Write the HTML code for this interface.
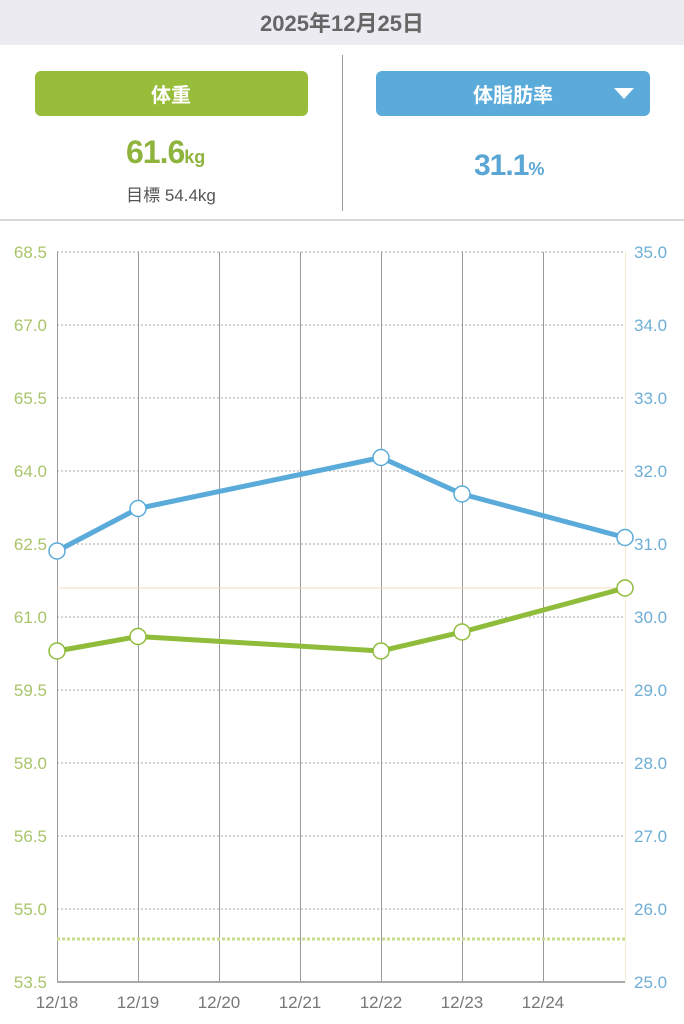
<!DOCTYPE html>
<html><head><meta charset="utf-8"><style>
body{margin:0;width:684px;height:1024px;background:#fff;overflow:hidden;font-family:"Liberation Sans","Noto Sans CJK JP",sans-serif;}
</style></head><body>
<svg width="684" height="1024" xmlns="http://www.w3.org/2000/svg" style="position:absolute;left:0;top:0">
<rect x="0" y="0" width="684" height="45" fill="#ebebf1"/>
<text x="342" y="31" text-anchor="middle" font-size="22" font-weight="bold" fill="#666" font-family="Liberation Sans, Noto Sans CJK JP, sans-serif">2025年12月25日</text>
<line x1="342.5" y1="55" x2="342.5" y2="211" stroke="#999" stroke-width="1"/>
<line x1="0" y1="220" x2="684" y2="220" stroke="#ccc" stroke-width="1.5"/>
<rect x="35" y="71" width="273" height="45" rx="6" fill="#97bd3a"/>
<text x="171" y="102" text-anchor="middle" font-size="20" font-weight="bold" fill="#fff" font-family="Liberation Sans, Noto Sans CJK JP, sans-serif">体重</text>
<rect x="376" y="71" width="274" height="45" rx="6" fill="#5aabda"/>
<text x="513" y="102" text-anchor="middle" font-size="20" font-weight="bold" fill="#fff" font-family="Liberation Sans, Noto Sans CJK JP, sans-serif">体脂肪率</text>
<polygon points="614,88 634,88 624,99" fill="#fff"/>
<text x="126" y="163" font-size="32" font-weight="bold" fill="#8fb43e" letter-spacing="-1">61.6<tspan font-size="18" letter-spacing="0">kg</tspan></text>
<text x="171" y="201" text-anchor="middle" font-size="17" fill="#555" font-family="Liberation Sans, Noto Sans CJK JP, sans-serif">目標 54.4kg</text>
<text x="474" y="175" font-size="30" font-weight="bold" fill="#5aa6d4" letter-spacing="-1">31.1<tspan font-size="18" letter-spacing="0">%</tspan></text>
<g stroke="#aaa" stroke-width="1" stroke-dasharray="2,2">
<line x1="57" y1="252" x2="625" y2="252"/><line x1="57" y1="325" x2="625" y2="325"/><line x1="57" y1="398" x2="625" y2="398"/><line x1="57" y1="471" x2="625" y2="471"/><line x1="57" y1="544" x2="625" y2="544"/><line x1="57" y1="617" x2="625" y2="617"/><line x1="57" y1="690" x2="625" y2="690"/><line x1="57" y1="763" x2="625" y2="763"/><line x1="57" y1="836" x2="625" y2="836"/><line x1="57" y1="909" x2="625" y2="909"/>
</g>
<g stroke="#999" stroke-width="1">
<line x1="57.5" y1="252" x2="57.5" y2="982"/><line x1="138.5" y1="252" x2="138.5" y2="982"/><line x1="219.5" y1="252" x2="219.5" y2="982"/><line x1="300.5" y1="252" x2="300.5" y2="982"/><line x1="381.5" y1="252" x2="381.5" y2="982"/><line x1="462.5" y1="252" x2="462.5" y2="982"/><line x1="543.5" y1="252" x2="543.5" y2="982"/>
</g>
<line x1="625.5" y1="252" x2="625.5" y2="982" stroke="#f3eccf" stroke-width="1"/>
<line x1="57" y1="982" x2="625" y2="982" stroke="#aaa" stroke-width="2"/>
<line x1="57" y1="588" x2="625" y2="588" stroke="#f5d9bd" stroke-width="1"/>
<line x1="57" y1="939" x2="625" y2="939" stroke="#c6dd8a" stroke-width="3" stroke-dasharray="3,2"/>
<g font-size="17" fill="#a8c56a" text-anchor="end">
<text x="47" y="258">68.5</text><text x="47" y="331">67.0</text><text x="47" y="404">65.5</text><text x="47" y="477">64.0</text><text x="47" y="550">62.5</text><text x="47" y="623">61.0</text><text x="47" y="696">59.5</text><text x="47" y="769">58.0</text><text x="47" y="842">56.5</text><text x="47" y="915">55.0</text><text x="47" y="988">53.5</text>
</g>
<g font-size="17" fill="#6eaed6">
<text x="634" y="258">35.0</text><text x="634" y="331">34.0</text><text x="634" y="404">33.0</text><text x="634" y="477">32.0</text><text x="634" y="550">31.0</text><text x="634" y="623">30.0</text><text x="634" y="696">29.0</text><text x="634" y="769">28.0</text><text x="634" y="842">27.0</text><text x="634" y="915">26.0</text><text x="634" y="988">25.0</text>
</g>
<g font-size="17" fill="#777" text-anchor="middle">
<text x="57" y="1008">12/18</text><text x="138" y="1008">12/19</text><text x="219" y="1008">12/20</text><text x="300" y="1008">12/21</text><text x="381" y="1008">12/22</text><text x="462" y="1008">12/23</text><text x="543" y="1008">12/24</text>
</g>
<polyline points="57,551 138,508.5 381,457.5 462,494 625,537.5" fill="none" stroke="#5aabda" stroke-width="5" stroke-linejoin="round"/>
<polyline points="57,651 138,636.5 381,651 462,632 625,588" fill="none" stroke="#8fbc3a" stroke-width="5" stroke-linejoin="round"/>
<g fill="#fff" stroke="#5aabda" stroke-width="1.5">
<circle cx="57" cy="551" r="8"/><circle cx="138" cy="508.5" r="8"/><circle cx="381" cy="457.5" r="8"/><circle cx="462" cy="494" r="8"/><circle cx="625" cy="537.5" r="8"/>
</g>
<g fill="#fff" stroke="#8fbc3a" stroke-width="1.5">
<circle cx="57" cy="651" r="8"/><circle cx="138" cy="636.5" r="8"/><circle cx="381" cy="651" r="8"/><circle cx="462" cy="632" r="8"/><circle cx="625" cy="588" r="8"/>
</g>
</svg>
</body></html>
